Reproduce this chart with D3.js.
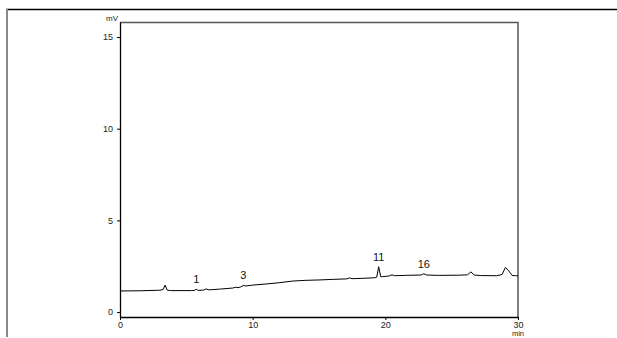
<!DOCTYPE html>
<html>
<head>
<meta charset="utf-8">
<script src="https://cdn.jsdelivr.net/npm/d3@7"></script>
<style>
  body { margin: 0; background: #fff; }
  svg { display: block; font-family: Arial, "Liberation Sans", sans-serif; }
</style>
</head>
<body>
<div id="chart"></div>
<script>
// chromatogram trace (min, mV)
var times = [0, 1.5, 3.0, 3.25, 3.4, 3.55, 3.8, 5.4, 5.6, 5.75, 5.9, 6.3, 6.5, 6.7, 7.5,
  8.5, 8.7, 8.9, 9.1, 9.3, 9.5, 10, 11, 12, 13, 14, 15, 16, 17.1, 17.3, 17.5, 18.3, 19.2,
  19.35, 19.5, 19.65, 19.8, 20.3, 20.5, 20.7, 21.5, 22.7, 22.9, 23.1, 24, 25.5, 26.2,
  26.45, 26.7, 27.2, 28.4, 28.8, 29.05, 29.3, 29.55, 29.8, 30];
var signal = [1.15, 1.16, 1.19, 1.23, 1.47, 1.2, 1.17, 1.17, 1.18, 1.24, 1.18, 1.2, 1.26, 1.21, 1.25,
  1.31, 1.35, 1.33, 1.37, 1.45, 1.42, 1.47, 1.53, 1.6, 1.69, 1.73, 1.75, 1.78, 1.81, 1.86, 1.82, 1.84, 1.87,
  1.9, 2.47, 1.93, 1.93, 1.97, 2.03, 1.98, 2.0, 2.02, 2.09, 2.02, 2.0, 2.01, 2.03,
  2.19, 2.02, 1.99, 1.98, 2.05, 2.43, 2.25, 2.0, 1.98, 1.98];

var peakLabels = ["1", "3", "11", "16"];
var peakTimes = [5.75, 9.3, 19.5, 22.9];
var peakTops = [1.24, 1.45, 2.47, 2.09];

var xTicks = [0, 10, 20, 30];
var yTicks = [0, 5, 10, 15];

var svgWidth = 617, svgHeight = 338;
var margin = { top: 22, right: 99, bottom: 21, left: 120 };
var width = svgWidth - margin.left - margin.right;
var height = svgHeight - margin.top - margin.bottom;

var svg = d3.select("#chart").append("svg")
  .attr("width", svgWidth)
  .attr("height", svgHeight);

// outer page frame
svg.append("line").attr("x1", 6).attr("x2", 617).attr("y1", 9.5).attr("y2", 9.5)
  .attr("stroke", "#000").attr("stroke-width", 1.5);
svg.append("line").attr("x1", 7).attr("x2", 7).attr("y1", 9).attr("y2", 337)
  .attr("stroke", "#888").attr("stroke-width", 2);

var chartGroup = svg.append("g")
  .attr("transform", `translate(${margin.left}, ${margin.top})`);

var x = d3.scaleLinear().domain([0, 30]).range([0, width]);
var y = d3.scaleLinear().domain([-0.27, 15.82]).range([height, 0]);

// top and right border of the plot box
chartGroup.append("path")
  .attr("d", `M0,0.5H${width}V${height}`)
  .attr("fill", "none")
  .attr("stroke", "#555")
  .attr("stroke-width", 1.5);

var bottomAxis = d3.axisBottom(x).tickValues(xTicks).tickSize(3).tickSizeOuter(0);
var leftAxis = d3.axisLeft(y).tickValues(yTicks).tickSize(3).tickSizeOuter(0);

var gx = chartGroup.append("g")
  .attr("transform", `translate(0, ${height})`)
  .call(bottomAxis);
var gy = chartGroup.append("g").call(leftAxis);

[gx, gy].forEach(function(g) {
  g.select(".domain").attr("stroke", "#000").attr("stroke-width", 1.3);
  g.selectAll(".tick line").attr("stroke", "#000");
  g.selectAll(".tick text").attr("font-size", 9).attr("fill", "#222")
    .attr("font-family", "Arial, 'Liberation Sans', sans-serif");
});
gx.selectAll(".tick text").attr("dy", "0.55em");
gy.selectAll(".tick text").attr("dx", "-0.1em");

// unit labels
chartGroup.append("text")
  .attr("x", -2).attr("y", -1)
  .attr("text-anchor", "end")
  .attr("font-size", 8).attr("fill", "#222")
  .text("mV");
chartGroup.append("text")
  .attr("x", x(30)).attr("y", height + 19)
  .attr("text-anchor", "middle")
  .attr("font-size", 7.5).attr("fill", "#222")
  .text("min");

// trace
var line = d3.line()
  .x(function(d, i) { return x(times[i]); })
  .y(function(d) { return y(d); });

chartGroup.append("path")
  .datum(signal)
  .attr("d", line)
  .attr("fill", "none")
  .attr("stroke", "#000")
  .attr("stroke-width", 1);

// peak numbers
chartGroup.selectAll(".peak")
  .data(peakLabels)
  .enter()
  .append("text")
  .attr("class", "peak")
  .attr("x", function(d, i) { return x(peakTimes[i]); })
  .attr("y", function(d, i) { return y(peakTops[i]) - 6; })
  .attr("text-anchor", "middle")
  .attr("font-size", 11)
  .attr("fill", "#111")
  .text(function(d) { return d; });
</script>
</body>
</html>
